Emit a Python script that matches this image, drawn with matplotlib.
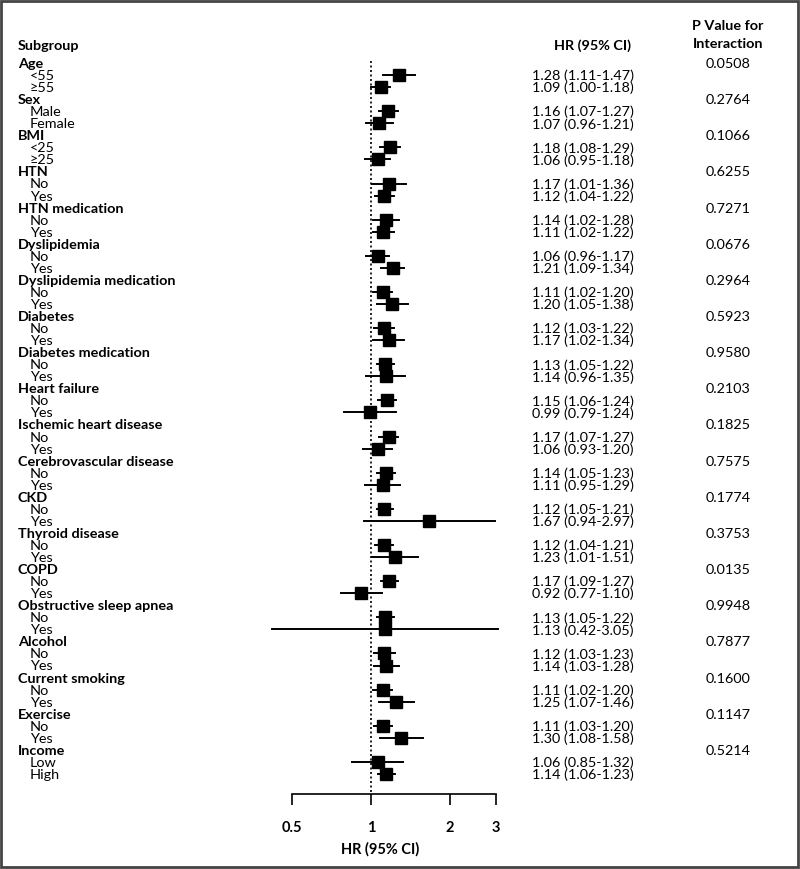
import numpy as np
import matplotlib
matplotlib.use("Agg")
import matplotlib.pyplot as plt
import matplotlib.transforms as mtransforms
from matplotlib.patches import Rectangle

plt.rcParams['font.family'] = ['Lato', 'DejaVu Sans']

# subgroup data
groups = ["Age", "Sex", "BMI", "HTN", "HTN medication", "Dyslipidemia",
          "Dyslipidemia medication", "Diabetes", "Diabetes medication",
          "Heart failure", "Ischemic heart disease", "Cerebrovascular disease",
          "CKD", "Thyroid disease", "COPD", "Obstructive sleep apnea",
          "Alcohol", "Current smoking", "Exercise", "Income"]
levels = [["<55", "≥55"], ["Male", "Female"], ["<25", "≥25"]] + \
         [["No", "Yes"]] * 16 + [["Low", "High"]]
hr = [1.28, 1.09, 1.16, 1.07, 1.18, 1.06, 1.17, 1.12, 1.14, 1.11,
      1.06, 1.21, 1.11, 1.20, 1.12, 1.17, 1.13, 1.14, 1.15, 0.99,
      1.17, 1.06, 1.14, 1.11, 1.12, 1.67, 1.12, 1.23, 1.17, 0.92,
      1.13, 1.13, 1.12, 1.14, 1.11, 1.25, 1.11, 1.30, 1.06, 1.14]
lo = [1.11, 1.00, 1.07, 0.96, 1.08, 0.95, 1.01, 1.04, 1.02, 1.02,
      0.96, 1.09, 1.02, 1.05, 1.03, 1.02, 1.05, 0.96, 1.06, 0.79,
      1.07, 0.93, 1.05, 0.95, 1.05, 0.94, 1.04, 1.01, 1.09, 0.77,
      1.05, 0.42, 1.03, 1.03, 1.02, 1.07, 1.03, 1.08, 0.85, 1.06]
hi = [1.47, 1.18, 1.27, 1.21, 1.29, 1.18, 1.36, 1.22, 1.28, 1.22,
      1.17, 1.34, 1.20, 1.38, 1.22, 1.34, 1.22, 1.35, 1.24, 1.24,
      1.27, 1.20, 1.23, 1.29, 1.21, 2.97, 1.21, 1.51, 1.27, 1.10,
      1.22, 3.05, 1.23, 1.28, 1.20, 1.46, 1.20, 1.58, 1.32, 1.23]
pvals = ["0.0508", "0.2764", "0.1066", "0.6255", "0.7271", "0.0676",
         "0.2964", "0.5923", "0.9580", "0.2103", "0.1825", "0.7575",
         "0.1774", "0.3753", "0.0135", "0.9948", "0.7877", "0.1600",
         "0.1147", "0.5214"]
xticks = [0.5, 1, 2, 3]

W, H = 800, 870
fig = plt.figure(figsize=(8, 8.7), dpi=100)

# pixel geometry: x px = 371 + 79*log2(x); row i at y px = 64 + 12.05*i
pitch = 12.05
y_top_px, y_bot_px = 16, 795
ax_left_px, ax_right_px = 240, 520
ax = fig.add_axes([ax_left_px / W, 1 - y_bot_px / H,
                   (ax_right_px - ax_left_px) / W, (y_bot_px - y_top_px) / H])
ax.set_xscale('log')
ax.set_xlim(2 ** ((ax_left_px - 371) / 79), 2 ** ((ax_right_px - 371) / 79))
ax.set_ylim((y_bot_px - 64) / pitch, (y_top_px - 64) / pitch)

for s in ['top', 'right', 'left']:
    ax.spines[s].set_visible(False)
ax.spines['bottom'].set_bounds(0.5, 3)
ax.spines['bottom'].set_linewidth(1.2)
ax.set_yticks([])
ax.set_xticks(xticks)
ax.set_xticklabels(['0.5', '1', '2', '3'], fontweight='bold', fontsize=10.5)
ax.xaxis.set_minor_locator(matplotlib.ticker.NullLocator())
ax.tick_params(axis='x', direction='out', length=8, width=1.2, pad=11)
ax.set_xlabel("HR (95% CI)", fontweight='bold', fontsize=10.5, labelpad=5)

ybot = (y_bot_px - 64) / pitch
ax.vlines(1, -0.2, ybot, colors='black', linestyles=(0, (1.2, 1.5)), lw=1.2)

tr = mtransforms.blended_transform_factory(fig.transFigure, ax.transData)
fs = 10.4
ax.text(18 / W, -1.5, "Subgroup", transform=tr, fontweight='bold', fontsize=fs,
        va='center', ha='left')
ax.text(592 / W, -1.5, "HR (95% CI)", transform=tr, fontweight='bold', fontsize=fs,
        va='center', ha='center')
ax.text(728 / W, -3.15, "P Value for", transform=tr, fontweight='bold', fontsize=fs,
        va='center', ha='center')
ax.text(728 / W, -1.65, "Interaction", transform=tr, fontweight='bold', fontsize=fs,
        va='center', ha='center')

k = 0
for g, name in enumerate(groups):
    row = 3 * g
    ax.text(18 / W, row, name, transform=tr, fontweight='bold', fontsize=fs,
            va='center', ha='left')
    ax.text(728 / W, row, pvals[g], transform=tr, fontsize=fs,
            va='center', ha='center')
    for j, lev in enumerate(levels[g]):
        r = row + 1 + j
        ax.text(30 / W, r, lev, transform=tr, fontsize=fs, va='center', ha='left')
        ax.text(583 / W, r, f"{hr[k]:.2f} ({lo[k]:.2f}-{hi[k]:.2f})", transform=tr,
                fontsize=fs, va='center', ha='center')
        ax.plot([lo[k], hi[k]], [r, r], color='black', lw=1.4, clip_on=False)
        ax.plot(hr[k], r, marker='s', color='black', markersize=8, clip_on=False)
        k += 1

fig.add_artist(Rectangle((0.001, 0.002), 0.996, 0.996, transform=fig.transFigure,
                         fill=False, edgecolor='#444444', lw=2))

fig.savefig("out.png", dpi=100)
